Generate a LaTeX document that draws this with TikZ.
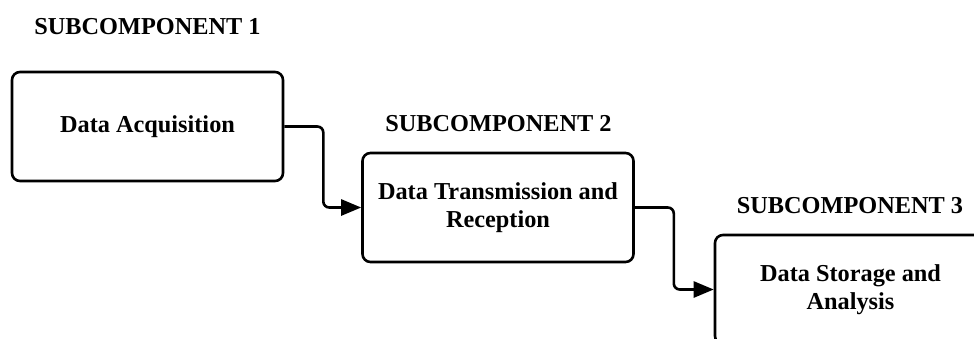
\documentclass[tikz,border=0pt]{standalone}
\usepackage{fontspec}
\setmainfont{Liberation Serif}
\usetikzlibrary{arrows.meta}
\begin{document}
\begin{tikzpicture}[x=1pt,y=-1pt,
  box/.style={draw=black, line width=2.6pt, rounded corners=8pt, fill=white,
    minimum width=271pt, minimum height=109pt, align=center,
    font=\fontsize{24.3}{28}\selectfont\bfseries},
  title/.style={font=\fontsize{24.3}{28}\selectfont\bfseries},
  conn/.style={line width=2.6pt, rounded corners=6pt,
    -{Triangle[length=20pt,width=16pt]}}]
\useasboundingbox (0,0) rectangle (974,338);
\node[title] (t1) at (147.5,27) {SUBCOMPONENT 1};
\node[title] (t2) at (498.5,124) {SUBCOMPONENT 2};
\node[title] (t3) at (850,206) {SUBCOMPONENT 3};
\node[box] (b1) at (147.5,126.5) {Data Acquisition};
\node[box] (b2) at (498,207.5) {Data Transmission and\\Reception};
\node[box] (b3) at (850.5,289.5) {Data Storage and\\Analysis};
\draw[conn] (b1.east) -- ++(39,0) |- (b2.west);
\draw[conn] (b2.east) -- ++(39,0) |- (b3.west);
\end{tikzpicture}
\end{document}
